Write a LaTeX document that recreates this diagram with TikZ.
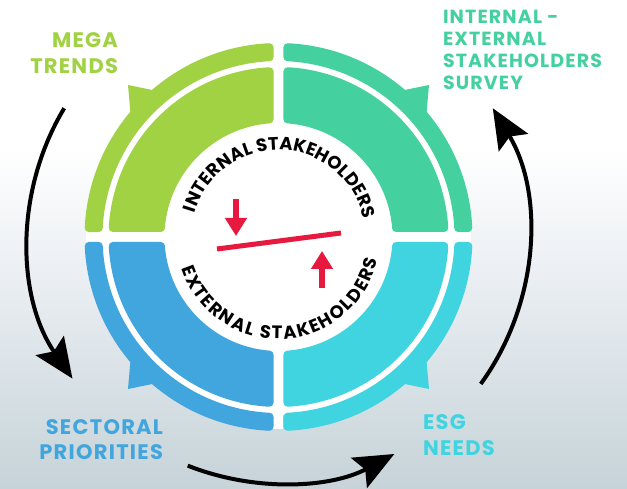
\documentclass[tikz,border=0pt]{standalone}
\usepackage{fontspec}
\setmainfont{Poppins}
\newfontfamily\labfam{Poppins}[LetterSpace=6]
\usetikzlibrary{arrows.meta,decorations.text}
\definecolor{cgreen}{RGB}{161,210,67}
\definecolor{cteal}{RGB}{69,208,160}
\definecolor{cblue}{RGB}{65,165,222}
\definecolor{ccyan}{RGB}{64,211,224}
\definecolor{cred}{RGB}{232,25,63}
\definecolor{bgbot}{RGB}{198,211,216}
\definecolor{bgmid}{RGB}{236,240,244}
\newcommand\secpath[3]{({asin(#1/#2)}:#2pt) -- ({asin(#1/#3)}:#3pt) arc[start angle={asin(#1/#3)}, end angle={90-asin(#1/#3)}, radius=#3pt] -- ({90-asin(#1/#2)}:#2pt) arc[start angle={90-asin(#1/#2)}, end angle={asin(#1/#2)}, radius=#2pt] -- cycle}
\newcommand\quadrant[1]{%
  \fill[#1, draw=#1, line width=8pt, line join=round] \secpath{9}{118}{166};
  \fill[#1, draw=#1, line width=8pt, line join=round] \secpath{9}{180}{190};
  \fill[#1] (150.5,152) -- (147.6,119) -- (116.5,145) -- cycle;}
\newcommand\lfont[2]{\labfam\bfseries\fontsize{#1}{#2}\selectfont}
\newcommand\curvefont{\bfseries\fontsize{18}{21}\selectfont}
\tikzset{
  blk/.style={draw=black, line width=4pt, -{Stealth[length=40pt,width=34pt,inset=7pt]}},
  redarrow/.style={draw=cred, line width=6pt, -{Triangle[length=18pt,width=21pt]}},
  lab/.style={inner sep=0pt, outer sep=0pt}
}
\begin{document}
\begin{tikzpicture}[x=1pt,y=1pt]
\useasboundingbox (-278.5,-252) rectangle (348.5,237);
\fill[white] (-278.5,-252) rectangle (348.5,237);
\shade[top color=bgmid, bottom color=bgbot] (-278.5,-252) rectangle (348.5,-30);
\shade[top color=white, bottom color=bgmid] (-278.5,-30) rectangle (348.5,90);
% white disk, ring and cross
\fill[white] (0,0) circle[radius=178pt];
\fill[white] (-5,-192) rectangle (5,192);
\fill[white] (-192,-5) rectangle (192,5);
% quadrants
\begin{scope} \quadrant{cteal} \end{scope}
\begin{scope}[xscale=-1] \quadrant{cgreen} \end{scope}
\begin{scope}[xscale=-1,yscale=-1] \quadrant{cblue} \end{scope}
\begin{scope}[yscale=-1] \quadrant{ccyan} \end{scope}
% curved texts
\coordinate (ts) at (164:87pt);
\path[decorate, decoration={text along path, text={|\curvefont|INTERNAL STAKEHOLDERS}, text align={fit to path}}]
  (ts) arc[start angle=164, end angle=12, radius=87pt];
\coordinate (bs) at (198:102pt);
\path[decorate, decoration={text along path, text={|\curvefont|EXTERNAL STAKEHOLDERS}, text align={fit to path}}]
  (bs) arc[start angle=198, end angle=347, radius=102pt];
% red elements
\coordinate (l1) at (-61.5,-12); \coordinate (l2) at (62.5,4);
\draw[cred, line width=5pt] (l1) -- (l2);
\coordinate (d1) at (-42.5,38); \coordinate (d2) at (-42.5,1);
\draw[redarrow] (d1) -- (d2);
\coordinate (u1) at (43.5,-51); \coordinate (u2) at (43.5,-14);
\draw[redarrow] (u1) -- (u2);
% black cycle arrows
\coordinate (la) at (149:250pt);
\draw[blk] (la) arc[start angle=149, end angle=214.5, radius=250pt];
\coordinate (ra) at (-36:250pt);
\draw[blk] (ra) arc[start angle=-36, end angle=31, radius=250pt];
\coordinate (ba) at (248.35:246pt);
\draw[blk] (ba) arc[start angle=248.35, end angle=298.1, radius=246pt];
% labels
\node[lab, text=cgreen, align=right, anchor=north east, font=\lfont{21}{26}] (mega) at (-160.5,204) {MEGA\\TRENDS};
\node[lab, text=cteal, align=left, anchor=north west, font=\lfont{19}{22}] (survey) at (164.5,227) {INTERNAL -\\EXTERNAL\\STAKEHOLDERS\\SURVEY};
\node[lab, text=cblue, align=right, anchor=north east, font=\lfont{21}{25}] (sect) at (-115.5,-183) {SECTORAL\\PRIORITIES};
\node[lab, text=ccyan, align=left, anchor=north west, font=\lfont{21}{26}] (esg) at (144.5,-178) {ESG\\NEEDS};
\end{tikzpicture}
\end{document}
